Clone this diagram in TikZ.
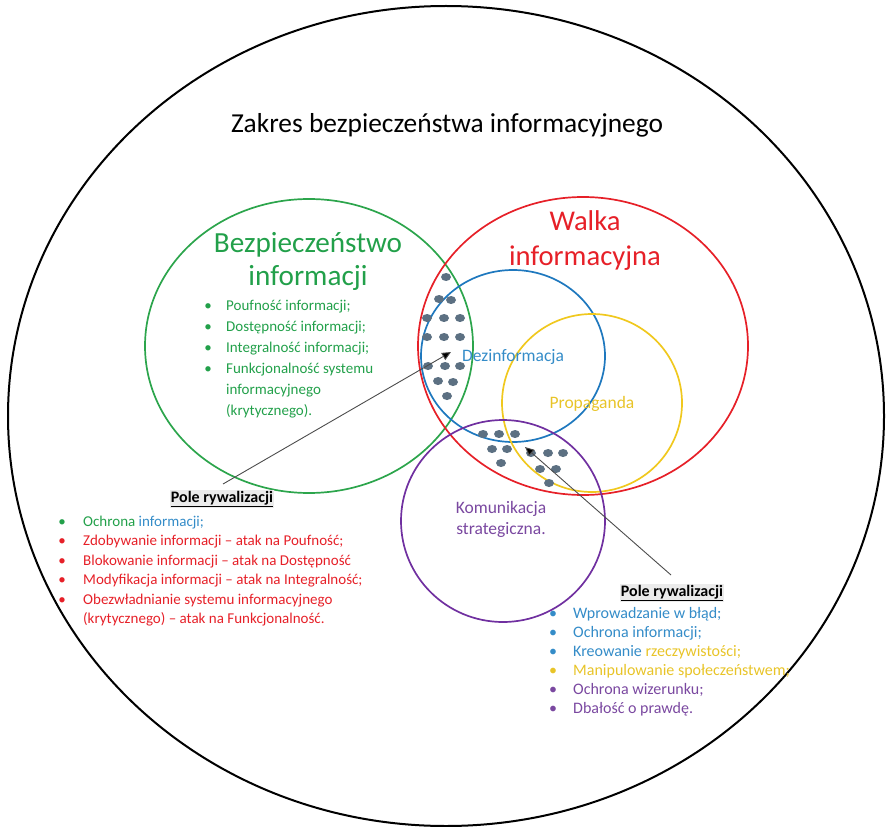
\documentclass[tikz,border=0pt]{standalone}
\usepackage{fontspec}
\setmainfont{Carlito}
\usetikzlibrary{arrows.meta}

\definecolor{cgreen}{RGB}{44,165,76}
\definecolor{tgreen}{RGB}{34,160,74}
\definecolor{cred}{RGB}{230,32,40}
\definecolor{cblue}{RGB}{30,120,190}
\definecolor{tblue}{RGB}{52,140,200}
\definecolor{cyellow}{RGB}{240,200,30}
\definecolor{tyellow}{RGB}{232,196,40}
\definecolor{cpurple}{RGB}{112,48,160}
\definecolor{tpurple}{RGB}{122,72,160}
\definecolor{cdot}{RGB}{92,112,130}

\tikzset{
  ring/.style={line width=1.7pt},
  outerring/.style={line width=2pt, black},
  dotmark/.style={fill=cdot, draw=none},
  listline/.style={anchor=base west, inner sep=0pt, font=\fontsize{15}{17}\selectfont},
  bulletmark/.style={anchor=base, inner sep=0pt, font=\fontsize{15}{17}\selectfont},
  biglist/.style={font=\fontsize{16}{18}\selectfont},
  heading/.style={inner sep=1pt, fill=black!8, font=\fontsize{16}{18}\selectfont\bfseries},
  arealabel/.style={font=\fontsize{17.5}{21}\selectfont},
  pointer/.style={draw=black!70, line width=0.9pt, -{Triangle[length=9pt,width=8pt,fill=black]}},
}

\begin{document}
\begin{tikzpicture}[x=1pt, y=-1pt]
\useasboundingbox (0,0) rectangle (890,826);

% outer scope
\draw[outerring] (446,416) ellipse [x radius=438pt, y radius=410pt];
\node (title) at (447,125) {\fontsize{27.4}{32}\selectfont Zakres bezpieczeństwa informacyjnego};

% the five areas
\draw[ring, cgreen]  (309,346) ellipse [x radius=164pt, y radius=147pt];
\draw[ring, cred]    (583,346) ellipse [x radius=165pt, y radius=149pt];
\draw[ring, cblue]   (513,356) ellipse [x radius=92pt, y radius=86pt];
\draw[ring, cyellow] (592,403) ellipse [x radius=90pt, y radius=89pt];
\draw[ring, cpurple] (503,521) ellipse [x radius=102pt, y radius=101pt];

% overlap markers
\foreach \px/\py in {446/277, 439/299, 451/300,
                     427/318, 444/318, 460/318,
                     427/337, 444/337, 460/337,
                     428/366, 445/366, 460/366,
                     438/381, 453/382, 447/396,
                     483/434, 499/434, 515/434,
                     492/449, 507/449, 501/463,
                     531/453, 548/453, 563/453,
                     540/469, 556/469, 549/483}
  \fill[dotmark] (\px,\py) ellipse [x radius=5pt, y radius=4pt];

% area labels
\node[text=tgreen, align=center, font=\fontsize{29.2}{33}\selectfont] (bi) at (308,261)
  {Bezpieczeństwo\\informacji};
\node[text=cred, align=center, font=\fontsize{28.6}{35}\selectfont] (wi) at (585,241)
  {Walka\\informacyjna};
\node[arealabel, text=tblue] (dez) at (513,357) {Dezinformacja};
\node[arealabel, text=tyellow] (prop) at (592,404) {Propaganda};
\node[arealabel, text=tpurple, align=center] (kom) at (501,519)
  {Komunikacja\\strategiczna.};

% green list
\foreach \i/\yy/\txt in {1/310/{Poufność informacji;},
                        2/331/{Dostępność informacji;},
                        3/352/{Integralność informacji;},
                        4/373/{Funkcjonalność systemu}}
{
  \node[bulletmark, text=tgreen] (gb\i) at (208,\yy) {•};
  \node[listline, text=tgreen] (gl\i) at (226,\yy) {\txt};
}
\node[listline, text=tgreen] (gl5) at (226,394) {informacyjnego};
\node[listline, text=tgreen] (gl6) at (226,415) {(krytycznego).};

% left rivalry field
\node[heading] (poleA) at (222,499) {\underline{Pole rywalizacji}};
\node[bulletmark, text=tgreen] (lb1) at (62,526) {•};
\node[listline] (ll1) at (83,526) {\textcolor{tgreen}{Ochrona} \textcolor{tblue}{informacji;}};
\foreach \i/\yy/\txt in {2/545.5/{Zdobywanie informacji – atak na Poufność;},
                        3/565/{Blokowanie informacji – atak na Dostępność},
                        4/584.5/{Modyfikacja informacji – atak na Integralność;},
                        5/604/{Obezwładnianie systemu informacyjnego}}
{
  \node[bulletmark, text=cred] (lb\i) at (62,\yy) {•};
  \node[listline, text=cred] (ll\i) at (83,\yy) {\txt};
}
\node[listline, text=cred] (ll6) at (83,623) {(krytycznego) – atak na Funkcjonalność.};

% right rivalry field
\node[heading] (poleB) at (672,593) {\underline{Pole rywalizacji}};
\node[bulletmark, biglist, text=tblue] (rb1) at (553,618) {•};
\node[listline, biglist, text=tblue] (rl1) at (573,618) {Wprowadzanie w błąd;};
\node[bulletmark, biglist, text=tblue] (rb2) at (553,637) {•};
\node[listline, biglist, text=tblue] (rl2) at (573,637) {Ochrona informacji;};
\node[bulletmark, biglist, text=tblue] (rb3) at (553,656) {•};
\node[listline, biglist] (rl3) at (573,656) {\textcolor{tblue}{Kreowanie} \textcolor{tyellow}{rzeczywistości;}};
\node[bulletmark, biglist, text=tyellow] (rb4) at (553,675) {•};
\node[listline, biglist, text=tyellow] (rl4) at (573,675) {Manipulowanie społeczeństwem;};
\node[bulletmark, biglist, text=tpurple] (rb5) at (553,694) {•};
\node[listline, biglist, text=tpurple] (rl5) at (573,694) {Ochrona wizerunku;};
\node[bulletmark, biglist, text=tpurple] (rb6) at (553,713) {•};
\node[listline, biglist, text=tpurple] (rl6) at (573,713) {Dbałość o prawdę.};

% pointers into the overlaps
\coordinate (tailA) at (223,484);
\coordinate (tipA) at (451,352);
\coordinate (tailB) at (671,575);
\coordinate (tipB) at (525,447);
\draw[pointer] (tailA) -- (tipA);
\draw[pointer] (tailB) -- (tipB);
\end{tikzpicture}
\end{document}
